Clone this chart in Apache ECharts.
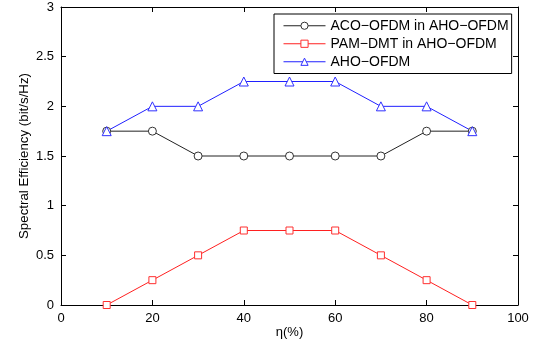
<!DOCTYPE html>
<html>
<head>
<meta charset="utf-8">
<script src="https://cdn.jsdelivr.net/npm/echarts@6/dist/echarts.min.js"></script>
<style>
  html, body { margin: 0; padding: 0; background: #fff; }
  #chart { width: 542px; height: 348px; }
</style>
</head>
<body>
<div id="chart"></div>
<script>
const eta = [10, 20, 30, 40, 50, 60, 70, 80, 90];
const acoOfdm = [1.75, 1.75, 1.5, 1.5, 1.5, 1.5, 1.5, 1.75, 1.75];
const pamDmt = [0, 0.25, 0.5, 0.75, 0.75, 0.75, 0.5, 0.25, 0];
const ahoOfdm = [1.75, 2, 2, 2.25, 2.25, 2.25, 2, 2, 1.75];

const font = "Liberation Sans, Arial, sans-serif";
const pair = (ys) => eta.map((x, i) => [x, ys[i]]);

const chart = echarts.init(document.getElementById("chart"));

const axisCommon = {
  axisLine: { show: true, onZero: false, lineStyle: { color: "#000", width: 1 } },
  axisTick: { show: true, inside: true, length: 5, lineStyle: { color: "#000" } },
  splitLine: { show: false },
};

// hollow markers with a thin outline
const marker = (c) => ({ color: "#fff", borderColor: c, borderWidth: 1 });

chart.setOption({
  animation: false,
  grid: { left: 61, right: 24, top: 7, bottom: 43, outerBoundsMode: "none" },
  xAxis: [
    {
      ...axisCommon,
      type: "value", min: 0, max: 100, interval: 20,
      name: "η(%)", nameLocation: "middle", nameGap: 21, nameMoveOverlap: false,
      nameTextStyle: { fontFamily: font, fontSize: 13, color: "#000" },
      axisLabel: { fontFamily: font, fontSize: 13, color: "#000", margin: 7 },
    },
    {
      ...axisCommon,
      type: "value", min: 0, max: 100, interval: 20, position: "top",
      axisLabel: { show: false },
    },
  ],
  yAxis: [
    {
      ...axisCommon,
      type: "value", min: 0, max: 3, interval: 0.5,
      name: "Spectral Efficiency (bit/s/Hz)", nameLocation: "middle", nameGap: 30, nameMoveOverlap: false,
      nameTextStyle: { fontFamily: font, fontSize: 13.3, color: "#000" },
      axisLabel: { fontFamily: font, fontSize: 13, color: "#000", margin: 7 },
    },
    {
      ...axisCommon,
      type: "value", min: 0, max: 3, interval: 0.5, position: "right",
      axisLabel: { show: false },
    },
  ],
  legend: {
    orient: "vertical",
    left: 274, top: 14,
    padding: [4, 3, 4, 9],
    itemGap: 2.5,
    itemWidth: 42, itemHeight: 9,
    borderColor: "#000", borderWidth: 1,
    backgroundColor: "#fff",
    itemStyle: { borderWidth: 1 },
    lineStyle: { width: 1 },
    textStyle: { fontFamily: font, fontSize: 14, color: "#000", lineHeight: 15.5 },
    data: ["ACO\u2212OFDM in AHO\u2212OFDM", "PAM\u2212DMT in AHO\u2212OFDM", "AHO\u2212OFDM"],
  },
  series: [
    {
      name: "ACO\u2212OFDM in AHO\u2212OFDM",
      type: "line", data: pair(acoOfdm),
      symbol: "circle", symbolSize: 8,
      lineStyle: { color: "#222", width: 1 },
      itemStyle: marker("#333"),
    },
    {
      name: "PAM\u2212DMT in AHO\u2212OFDM",
      type: "line", data: pair(pamDmt),
      symbol: "rect", symbolSize: 7,
      lineStyle: { color: "#ff2020", width: 1 },
      itemStyle: marker("#ff3030"),
    },
    {
      name: "AHO\u2212OFDM",
      type: "line", data: pair(ahoOfdm),
      symbol: "triangle", symbolSize: 9,
      lineStyle: { color: "#2020ff", width: 1 },
      itemStyle: marker("#3030ff"),
    },
  ],
});
</script>
</body>
</html>
